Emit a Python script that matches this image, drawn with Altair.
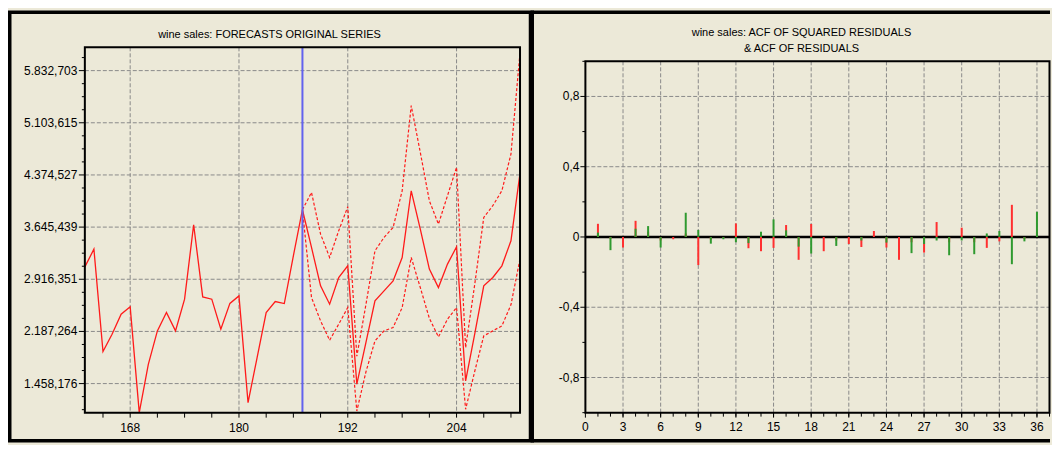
import altair as alt
import pandas as pd

BG = "#ECE9D8"
FONT = "Liberation Sans"
GRID = "#8a8a8a"

# ---------------- Left panel data: wine sales, forecasts of original series ----------------
periods = list(range(163, 212))
sales = [3090000, 3337000, 1906000, 2148000, 2428000, 2531000, 1052000, 1728000, 2195000, 2451000,
         2195000, 2638000, 3678000, 2670000, 2638000, 2218000, 2579000, 2684000, 1192000, 1822000,
         2451000, 2605000, 2577000, 3244000, 3888000, 3361000, 2824000, 2568000, 2941000, 3104000,
         1450000, 2032000, 2615000, 2754000, 2894000, 3221000, 4153000, 3617000, 3058000, 2801000,
         3128000, 3370000, 1495000, 2148000, 2824000, 2941000, 3104000, 3454000, 4400000]
fc_periods = list(range(187, 212))
upper = [3888000, 4130000, 3547000, 3221000, 3594000, 3930000, 1840000, 2560000, 3314000, 3501000,
         3640000, 4153000, 5343000, 4690000, 4014000, 3687000, 4084000, 4480000, 1960000, 2840000,
         3780000, 3945000, 4154000, 4666000, 6085000]
lower = [3888000, 2661000, 2335000, 2064000, 2288000, 2521000, 1075000, 1620000, 2055000, 2195000,
         2242000, 2521000, 3221000, 2801000, 2370000, 2110000, 2358000, 2521000, 1099000, 1627000,
         2125000, 2195000, 2265000, 2560000, 3201000]
forecast_origin = [187]
y_ticks_left = [1458176, 2187264, 2916351, 3645439, 4374527, 5103615, 5832703]
y_labels_left = ["1.458,176", "2.187,264", "2.916,351", "3.645,439", "4.374,527", "5.103,615", "5.832,703"]
x_ticks_left = [168, 180, 192, 204]
x_labels_left = ["168", "180", "192", "204"]
x_minor_left = [165, 168, 171, 174, 177, 180, 183, 186, 189, 192, 195, 198, 201, 204, 207, 210]
title_left = "wine sales: FORECASTS ORIGINAL SERIES"

# ---------------- Right panel data: ACF ----------------
lags = list(range(1, 37))
acf_red = [0.075, -0.01, -0.06, 0.092, 0.03, -0.02, -0.013, 0.02, -0.16, -0.015,
           -0.005, 0.077, -0.064, -0.081, -0.062, 0.068, -0.13, 0.074, -0.081, -0.02,
           -0.04, -0.057, 0.034, -0.06, -0.13, -0.03, -0.089, 0.085, -0.03, 0.053,
           -0.03, -0.062, -0.025, 0.183, -0.01, 0.03]
acf_green = [0.025, -0.075, 0.0, 0.047, 0.062, -0.06, 0.0, 0.138, 0.04, -0.038,
             -0.013, -0.03, -0.035, 0.03, 0.1, 0.038, -0.055, -0.094, 0.0, -0.051,
             0.0, -0.02, 0.0, -0.032, 0.0, -0.092, -0.04, -0.02, -0.104, -0.02,
             -0.098, 0.02, 0.034, -0.155, -0.025, 0.143]
y_ticks_right = [-0.8, -0.4, 0.4, 0.8, 0]
y_labels_right = ["-0,8", "-0,4", "0,4", "0,8", "0"]
y_minor_right = [-1.0, -0.6, -0.2, 0.2, 0.6, 1.0]
x_ticks_right = list(range(0, 37, 3))
x_labels_right = [str(k) for k in x_ticks_right]
x_minor_right = list(range(1, 38))
title_right = ["wine sales: ACF OF SQUARED RESIDUALS", "& ACF OF RESIDUALS"]

# minor ticks on the left y axis: quarters between the labelled ticks
y_minor_left = []
step = (y_ticks_left[1] - y_ticks_left[0]) / 4
for base in [y_ticks_left[0] - 4 * step] + y_ticks_left:
    for i in (1, 2, 3):
        v = base + i * step
        if 1052000 <= v <= 6158000:
            y_minor_left.append(v)

one = pd.DataFrame({"a": [0]})


def rule(df, **enc):
    return alt.Chart(df).mark_rule(color="black", strokeWidth=1).encode(**enc)


def grid(df, **enc):
    return alt.Chart(df).mark_rule(color=GRID, strokeWidth=1, strokeDash=[4, 2]).encode(**enc)


def labels(df, align, baseline, **enc):
    return alt.Chart(df).mark_text(font=FONT, fontSize=12, color="black", align=align,
                                   baseline=baseline).encode(**enc)


# ---------------- Left chart ----------------
W1, H1 = 436, 366
xs1 = alt.Scale(domain=[163, 211], nice=False, zero=False)
ys1 = alt.Scale(domain=[1052000, 6158000], nice=False, zero=False)

def X1(f):
    return alt.X(f, scale=xs1, axis=None)

def Y1(f):
    return alt.Y(f, scale=ys1, axis=None)

df_sales = pd.DataFrame({"t": periods, "v": sales})
df_up = pd.DataFrame({"t": fc_periods, "v": upper})
df_lo = pd.DataFrame({"t": fc_periods, "v": lower})
df_yt1 = pd.DataFrame({"v": y_ticks_left, "lab": y_labels_left})
df_xt1 = pd.DataFrame({"t": x_ticks_left, "lab": x_labels_left})

outer1 = alt.Chart(one).mark_rect(fillOpacity=0, stroke="black", strokeWidth=3.5).encode(
    x=alt.value(-75.25), x2=alt.value(446.5), y=alt.value(-35.25), y2=alt.value(394.25))
ttl1 = alt.Chart(one).mark_text(text=title_left, font=FONT, fontSize=11, color="black",
                                align="center", baseline="middle").encode(
    x=alt.value(185), y=alt.value(-12.5))
hgrid1 = grid(df_yt1, y=Y1("v:Q"), x=alt.value(0), x2=alt.value(W1))
vgrid1 = grid(df_xt1, x=X1("t:Q"), y=alt.value(0), y2=alt.value(H1))
blue = alt.Chart(pd.DataFrame({"t": forecast_origin})).mark_rule(
    color="#6262ee", strokeWidth=2).encode(x=X1("t:Q"))
solid = alt.Chart(df_sales).mark_line(color="#ff1a1a", strokeWidth=1.3).encode(
    x=X1("t:Q"), y=Y1("v:Q"))
up_l = alt.Chart(df_up).mark_line(color="#ff1a1a", strokeWidth=1.2, strokeDash=[3, 2]).encode(
    x=X1("t:Q"), y=Y1("v:Q"))
lo_l = alt.Chart(df_lo).mark_line(color="#ff1a1a", strokeWidth=1.2, strokeDash=[3, 2]).encode(
    x=X1("t:Q"), y=Y1("v:Q"))
ymaj1 = rule(df_yt1, y=Y1("v:Q"), x=alt.value(-6), x2=alt.value(0))
ymin1 = rule(pd.DataFrame({"v": y_minor_left}), y=Y1("v:Q"), x=alt.value(-3), x2=alt.value(0))
xmin1 = rule(pd.DataFrame({"t": x_minor_left}), x=X1("t:Q"), y=alt.value(H1), y2=alt.value(H1 + 5))
ylab1 = labels(df_yt1, "right", "middle", y=Y1("v:Q"), x=alt.value(-7.5), text="lab:N")
xlab1 = labels(df_xt1, "center", "middle", x=X1("t:Q"), y=alt.value(H1 + 15), text="lab:N")
frame1 = alt.Chart(one).mark_rect(fillOpacity=0, stroke="black", strokeWidth=2).encode(
    x=alt.value(0), x2=alt.value(W1), y=alt.value(0), y2=alt.value(H1))

left = alt.layer(outer1, ttl1, hgrid1, vgrid1, solid, up_l, lo_l, blue, ymaj1, ymin1, xmin1,
                 ylab1, xlab1, frame1).properties(width=W1, height=H1)

# ---------------- Right chart ----------------
W2, H2, TOP2 = 465, 366, 14
xs2 = alt.Scale(domain=[0, 37], nice=False, zero=False)
ys2 = alt.Scale(domain=[-1, 1], range=[H2, TOP2], nice=False, zero=False)

def X2(f):
    return alt.X(f, scale=xs2, axis=None)

def Y2(f):
    return alt.Y(f, scale=ys2, axis=None)

df_acf = pd.DataFrame({"lag": lags, "red": acf_red, "green": acf_green, "zero": [0.0] * len(lags)})
df_yt2 = pd.DataFrame({"v": y_ticks_right, "lab": y_labels_right})
df_xt2 = pd.DataFrame({"k": x_ticks_right, "lab": x_labels_right})

outer2_left = alt.Chart(one).mark_rule(color="black", strokeWidth=3.5).encode(
    x=alt.value(-53.25), y=alt.value(-37), y2=alt.value(396))
outer2_top = alt.Chart(one).mark_rule(color="black", strokeWidth=3.5).encode(
    x=alt.value(-53.25), x2=alt.value(465.5), y=alt.value(-35.25))
outer2_bot = alt.Chart(one).mark_rule(color="black", strokeWidth=3.5).encode(
    x=alt.value(-53.25), x2=alt.value(465.5), y=alt.value(394.25))
ttl2a = alt.Chart(one).mark_text(text=title_right[0], font=FONT, fontSize=11, color="black",
                                 align="center", baseline="middle").encode(
    x=alt.value(216.5), y=alt.value(-14))
ttl2b = alt.Chart(one).mark_text(text=title_right[1], font=FONT, fontSize=11, color="black",
                                 align="center", baseline="middle").encode(
    x=alt.value(216.5), y=alt.value(1.6))
hgrid2 = grid(df_yt2, y=Y2("v:Q"), x=alt.value(0), x2=alt.value(W2))
vgrid2 = grid(pd.DataFrame({"k": x_ticks_right[1:]}), x=X2("k:Q"), y=alt.value(TOP2), y2=alt.value(H2))
zero2 = alt.Chart(pd.DataFrame({"v": [0.0]})).mark_rule(color="black", strokeWidth=2.5).encode(
    y=Y2("v:Q"), x=alt.value(0), x2=alt.value(W2))
red2 = alt.Chart(df_acf).mark_rule(color="#ff3030", strokeWidth=2).encode(
    x=X2("lag:Q"), y=Y2("zero:Q"), y2="red:Q")
green2 = alt.Chart(df_acf).mark_rule(color="#2f9a2f", strokeWidth=2).encode(
    x=X2("lag:Q"), y=Y2("zero:Q"), y2="green:Q")
ymaj2 = rule(df_yt2, y=Y2("v:Q"), x=alt.value(-5), x2=alt.value(0))
ymin2 = rule(pd.DataFrame({"v": y_minor_right}), y=Y2("v:Q"), x=alt.value(-3), x2=alt.value(0))
xmin2 = rule(pd.DataFrame({"k": x_minor_right}), x=X2("k:Q"), y=alt.value(H2), y2=alt.value(H2 + 4))
xmaj2 = rule(df_xt2, x=X2("k:Q"), y=alt.value(H2), y2=alt.value(H2 + 5))
ylab2 = labels(df_yt2, "right", "middle", y=Y2("v:Q"), x=alt.value(-6), text="lab:N")
xlab2 = labels(df_xt2, "center", "middle", x=X2("k:Q"), y=alt.value(H2 + 14), text="lab:N")
frame2 = alt.Chart(one).mark_rect(fillOpacity=0, stroke="black", strokeWidth=2).encode(
    x=alt.value(0), x2=alt.value(W2), y=alt.value(TOP2), y2=alt.value(H2))

right = alt.layer(outer2_left, outer2_top, outer2_bot, ttl2a, ttl2b, hgrid2, vgrid2, zero2,
                  red2, green2, ymaj2, ymin2, xmin2, xmaj2, ylab2, xlab2, frame2).properties(
    width=W2, height=H2)

chart = alt.hconcat(left, right, spacing=65.5, bounds="flush").properties(
    padding=0, background=BG
).configure_view(strokeWidth=0)

chart.save("out.html", embed_options={"renderer": "svg", "actions": False})
